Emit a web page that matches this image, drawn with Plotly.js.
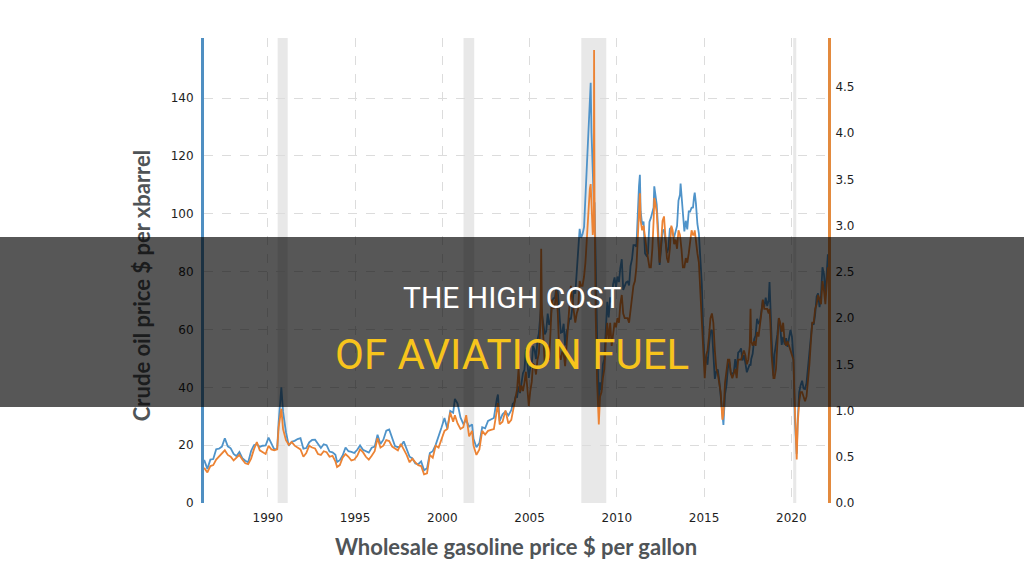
<!DOCTYPE html>
<html>
<head>
<meta charset="utf-8">
<script src="https://cdn.plot.ly/plotly-3.0.1.min.js"></script>
<style>
html,body{margin:0;padding:0;background:#fff;}
#chart{width:1024px;height:576px;}
</style>
</head>
<body>
<div id="chart"></div>
<script>
// ---- data ----
const dates = [
 '1986-05-08','1986-07-15','1986-09-15','1986-11-15',
 '1987-01-15','1987-03-15','1987-05-15','1987-07-15','1987-09-15','1987-11-15',
 '1988-01-15','1988-03-15','1988-05-15','1988-07-15','1988-09-15','1988-11-15',
 '1989-01-15','1989-03-15','1989-05-15','1989-07-15','1989-09-15','1989-11-15',
 '1990-01-15','1990-03-15','1990-05-15','1990-07-15','1990-08-15','1990-10-10','1990-11-15',
 '1991-01-15','1991-03-15','1991-05-15','1991-07-15','1991-09-15','1991-11-15',
 '1992-01-15','1992-03-15','1992-05-15','1992-07-15','1992-09-15','1992-11-15',
 '1993-01-15','1993-03-15','1993-05-15','1993-07-15','1993-09-15','1993-11-15','1993-12-20',
 '1994-02-15','1994-04-15','1994-06-15','1994-08-15','1994-10-15','1994-12-15',
 '1995-02-15','1995-04-15','1995-06-15','1995-08-15','1995-10-15','1995-12-15',
 '1996-02-15','1996-04-15','1996-06-15','1996-08-15','1996-10-15','1996-12-15',
 '1997-02-15','1997-04-15','1997-06-15','1997-08-15','1997-10-15','1997-12-15',
 '1998-02-15','1998-04-15','1998-06-15','1998-08-15','1998-10-15','1998-12-15',
 '1999-02-15','1999-04-15','1999-06-15','1999-08-15','1999-10-15','1999-12-15',
 '2000-02-15','2000-04-15','2000-06-15','2000-08-15','2000-09-20','2000-11-15',
 '2001-01-15','2001-03-15','2001-05-15','2001-07-15','2001-09-15','2001-10-15','2001-12-15',
 '2002-02-15','2002-04-15','2002-06-15','2002-08-15','2002-10-15','2002-12-15',
 '2003-02-15','2003-03-10','2003-04-15','2003-06-15','2003-08-15','2003-10-15','2003-12-15',
 '2004-01-15','2004-02-15','2004-03-15','2004-04-15','2004-05-15','2004-06-15','2004-07-15','2004-08-15','2004-09-15','2004-10-15','2004-11-15','2004-12-15',
 '2005-01-15','2005-02-15','2005-03-15','2005-04-15','2005-05-15','2005-06-15','2005-07-15','2005-08-15','2005-09-01','2005-09-15','2005-10-15','2005-11-15','2005-12-15',
 '2006-01-15','2006-02-15','2006-03-15','2006-04-15','2006-05-15','2006-06-15','2006-07-15','2006-08-15','2006-09-15','2006-10-15','2006-11-15','2006-12-15',
 '2007-01-15','2007-02-15','2007-03-15','2007-04-15','2007-05-15','2007-06-15','2007-07-15','2007-08-15','2007-09-15','2007-10-15','2007-11-15','2007-12-15',
 '2008-01-15','2008-02-15','2008-03-15','2008-04-15','2008-05-15','2008-06-15','2008-07-03','2008-07-20','2008-08-15','2008-09-05','2008-09-12','2008-09-22','2008-10-15','2008-11-15','2008-12-20',
 '2009-01-15','2009-02-15','2009-03-15','2009-04-15','2009-05-15','2009-06-15','2009-07-15','2009-08-15','2009-09-15','2009-10-15','2009-11-15','2009-12-15',
 '2010-01-15','2010-02-15','2010-03-15','2010-04-15','2010-05-15','2010-06-15','2010-07-15','2010-08-15','2010-09-15','2010-10-15','2010-11-15','2010-12-15',
 '2011-01-15','2011-02-15','2011-03-15','2011-04-10','2011-04-29','2011-05-15','2011-06-15','2011-07-15','2011-08-15','2011-09-15','2011-10-15','2011-11-15','2011-12-15',
 '2012-01-15','2012-02-10','2012-02-24','2012-03-15','2012-04-15','2012-05-15','2012-06-15','2012-07-15','2012-08-15','2012-09-15','2012-10-15','2012-11-15','2012-12-15',
 '2013-01-15','2013-02-15','2013-03-15','2013-04-15','2013-05-15','2013-06-15','2013-07-15','2013-08-15','2013-08-28','2013-09-15','2013-10-15','2013-11-15','2013-12-15',
 '2014-01-15','2014-02-15','2014-03-15','2014-04-15','2014-05-15','2014-06-05','2014-06-20','2014-07-15','2014-08-15','2014-09-15','2014-10-15','2014-11-15','2014-12-15',
 '2015-01-15','2015-02-15','2015-03-15','2015-04-15','2015-05-15','2015-06-15','2015-07-15','2015-08-15','2015-09-15','2015-10-15','2015-11-15','2015-12-15',
 '2016-01-20','2016-02-11','2016-03-15','2016-04-15','2016-05-15','2016-06-15','2016-07-15','2016-08-15','2016-09-15','2016-10-15','2016-11-15','2016-12-15',
 '2017-01-15','2017-02-15','2017-03-15','2017-04-15','2017-05-15','2017-06-15','2017-07-15','2017-08-15','2017-08-31','2017-09-15','2017-10-15','2017-11-15','2017-12-15',
 '2018-01-15','2018-02-15','2018-03-15','2018-04-15','2018-05-15','2018-06-15','2018-07-15','2018-08-15','2018-09-15','2018-10-03','2018-10-20','2018-11-15','2018-12-24',
 '2019-01-15','2019-02-15','2019-03-15','2019-04-15','2019-05-15','2019-06-15','2019-07-15','2019-08-15','2019-09-15','2019-10-15','2019-11-15','2019-12-15',
 '2020-01-15','2020-02-15','2020-03-15','2020-04-10','2020-04-24','2020-05-15','2020-06-15','2020-07-15','2020-08-15','2020-09-15','2020-10-15','2020-11-15','2020-12-15',
 '2021-01-15','2021-02-15','2021-03-15','2021-04-15','2021-05-15','2021-06-15','2021-07-15','2021-08-15','2021-09-15','2021-10-15','2021-11-15','2021-12-15',
 '2022-01-15','2022-02-05'
];

// Crude oil price, $ per barrel (left axis)
const crudeOil = [
 14.9,11.8,15.0,15.2,
 18.6,18.8,19.5,22.4,19.6,18.9,
 17.0,16.2,17.6,15.5,14.6,14.1,
 18.0,20.0,20.3,19.4,19.8,19.9,
 22.6,20.3,18.5,18.7,28.0,40.0,31.5,
 24.5,19.8,21.2,21.5,22.1,22.4,
 18.8,19.0,21.0,21.8,21.9,20.2,
 19.0,20.3,20.0,17.8,17.5,16.7,14.2,
 14.8,16.4,19.2,17.9,17.7,17.3,
 18.4,19.9,18.4,17.9,17.4,19.1,
 19.5,23.6,20.4,21.9,25.0,25.4,
 22.2,19.7,19.3,19.6,21.3,18.3,
 16.0,15.4,13.7,13.4,14.4,11.3,
 12.0,17.3,17.9,20.1,22.8,26.1,
 29.4,25.7,31.8,31.2,36.0,34.4,
 29.6,27.4,28.6,26.4,27.2,22.2,19.3,
 20.7,26.2,25.8,28.4,28.8,29.4,
 35.9,37.5,28.3,30.7,31.6,30.3,32.1,
 34.3,34.7,36.8,36.7,40.3,38.0,40.7,44.9,46.0,53.1,48.5,43.3,
 46.8,48.0,54.3,53.0,49.8,56.3,58.7,64.9,69.0,65.6,62.3,58.3,59.4,
 65.5,61.6,62.9,69.4,70.8,70.9,74.4,73.0,63.8,58.9,59.1,62.0,
 54.5,59.3,60.4,63.9,63.5,67.5,74.1,72.4,79.9,85.8,94.8,91.7,
 93.0,95.4,105.5,112.6,125.4,133.9,145.3,128.0,116.7,107.0,101.0,104.0,76.6,57.3,33.9,
 41.7,39.1,47.9,49.7,59.0,69.6,64.2,71.1,69.4,75.7,78.0,74.5,
 78.3,76.4,81.2,84.3,73.7,75.3,76.3,76.6,75.2,81.9,84.3,89.2,
 89.2,88.6,102.9,109.5,113.5,100.9,96.3,97.3,86.3,85.5,86.3,97.2,98.6,
 100.3,102.2,109.5,106.2,103.3,94.7,82.3,87.9,94.1,94.5,89.5,86.5,87.9,
 94.8,95.3,92.9,92.0,94.5,95.8,104.6,106.6,110.5,106.3,100.5,93.9,97.6,
 94.6,100.8,100.8,102.1,102.2,105.8,107.3,103.6,96.5,93.2,84.4,75.8,59.3,
 47.2,50.6,47.8,54.5,59.3,59.8,50.9,42.9,45.5,46.2,42.4,37.2,
 29.0,27.0,37.6,40.8,46.7,48.8,44.7,44.7,45.2,49.8,45.7,52.0,
 52.5,53.5,49.3,51.1,48.5,45.2,46.6,48.0,47.5,49.8,51.6,56.6,57.9,
 63.7,62.2,62.7,66.3,70.0,67.9,71.0,68.1,70.2,76.4,70.8,57.0,44.0,
 51.4,55.0,58.2,63.9,60.8,54.7,57.4,54.8,57.0,54.0,57.0,59.9,
 57.5,50.5,29.2,22.0,17.0,28.6,38.3,40.7,42.3,39.6,39.4,41.4,47.0,
 52.0,59.0,62.3,61.7,65.2,71.4,72.5,67.7,71.6,81.5,79.2,71.7,
 83.2,86.0
];

// Wholesale gasoline price, $ per gallon (right axis)
const gasoline = [
 0.38,0.33,0.40,0.41,
 0.47,0.50,0.54,0.57,0.52,0.50,
 0.46,0.49,0.52,0.47,0.43,0.42,
 0.48,0.58,0.66,0.57,0.55,0.53,
 0.62,0.58,0.57,0.58,0.82,1.02,0.80,
 0.68,0.63,0.66,0.62,0.60,0.58,
 0.50,0.54,0.62,0.60,0.59,0.53,
 0.52,0.56,0.55,0.50,0.51,0.45,0.39,
 0.41,0.49,0.53,0.50,0.46,0.47,
 0.51,0.58,0.55,0.50,0.47,0.51,
 0.56,0.70,0.60,0.62,0.68,0.67,
 0.61,0.59,0.57,0.64,0.58,0.52,
 0.44,0.48,0.44,0.41,0.40,0.31,
 0.32,0.52,0.49,0.62,0.60,0.68,
 0.78,0.80,0.98,0.88,0.95,0.86,
 0.80,0.82,0.95,0.72,0.78,0.62,0.52,
 0.58,0.78,0.74,0.78,0.79,0.80,
 1.00,1.08,0.85,0.88,1.00,0.86,0.90,
 0.98,1.07,1.12,1.23,1.45,1.20,1.27,1.21,1.30,1.42,1.24,1.05,
 1.21,1.31,1.51,1.48,1.39,1.55,1.62,1.93,2.75,2.10,1.80,1.50,1.60,
 1.70,1.55,1.83,2.20,2.10,2.15,2.30,2.05,1.60,1.55,1.63,1.62,
 1.48,1.70,1.95,2.20,2.35,2.20,2.10,1.95,2.05,2.10,2.40,2.35,
 2.35,2.45,2.60,2.85,3.20,3.40,3.45,3.25,2.90,3.00,4.90,3.30,2.05,1.30,0.85,
 1.15,1.20,1.35,1.45,1.75,1.95,1.75,1.95,1.70,1.85,1.95,1.90,
 2.00,1.95,2.15,2.25,2.05,2.00,2.00,2.00,1.95,2.10,2.20,2.35,
 2.40,2.55,2.85,3.20,3.35,3.05,2.95,3.00,2.90,2.75,2.65,2.55,2.55,
 2.75,3.05,3.30,3.25,3.15,2.85,2.60,2.80,3.05,3.10,2.85,2.65,2.60,
 2.75,3.00,2.95,2.80,2.85,2.75,2.95,2.90,2.85,2.75,2.55,2.55,2.65,
 2.60,2.70,2.80,2.95,2.90,2.90,2.95,2.80,2.70,2.60,2.30,2.10,1.65,
 1.35,1.60,1.65,1.80,2.00,2.05,1.95,1.65,1.45,1.40,1.30,1.20,
 0.90,0.95,1.30,1.45,1.55,1.55,1.40,1.35,1.40,1.45,1.35,1.55,
 1.55,1.55,1.60,1.65,1.60,1.50,1.55,1.70,2.10,1.75,1.70,1.75,1.70,
 1.85,1.80,1.90,2.05,2.20,2.10,2.10,2.10,2.05,2.10,1.95,1.60,1.35,
 1.35,1.45,1.80,2.00,1.95,1.85,1.95,1.75,1.70,1.75,1.70,1.65,
 1.60,1.55,1.05,0.70,0.47,0.85,1.10,1.20,1.20,1.15,1.10,1.15,1.30,
 1.50,1.75,1.95,1.95,2.10,2.15,2.25,2.20,2.15,2.40,2.30,2.15,
 2.45,2.55
];

// Recession periods (grey bands)
const recessionStart = ['1990-07-25','2001-03-20','2007-12-20','2020-02-10'];
const recessionEnd   = ['1991-02-20','2001-10-30','2009-05-25','2020-04-15'];

const leftTicks  = [0,20,40,60,80,100,120,140];
const rightTicks = [0,0.5,1,1.5,2,2.5,3,3.5,4,4.5];

const bannerLine1 = 'THE HIGH COST';
const bannerLine2 = 'OF AVIATION FUEL';

// ---- chart ----
const blue = '#4f93c9';
const orange = '#ec8334';

const traces = [
  {x: dates, y: crudeOil, type: 'scatter', mode: 'lines', yaxis: 'y',
   line: {color: blue, width: 1.8}, name: 'Crude oil', hoverinfo: 'skip'},
  {x: dates, y: gasoline, type: 'scatter', mode: 'lines', yaxis: 'y2',
   line: {color: orange, width: 1.8}, name: 'Gasoline', hoverinfo: 'skip'}
];

const shapes = recessionStart.map((s, i) => ({
  type: 'rect', xref: 'x', yref: 'paper', x0: s, x1: recessionEnd[i], y0: 0, y1: 1,
  fillcolor: '#e8e8e8', line: {width: 0}, layer: 'below'
}));
// dark banner overlay
shapes.push({
  type: 'rect', xref: 'paper', yref: 'paper', x0: -0.5, x1: 1.5, y0: 0.2065, y1: 0.572,
  fillcolor: 'rgba(0,0,0,0.66)', line: {width: 0}, layer: 'above'
});

const tickFont = {family: 'DejaVu Sans, Verdana, sans-serif', size: 12, color: '#1e1e1e'};
const titleFont = {family: 'Lato, Open Sans, sans-serif', size: 22, color: '#4f5457', weight: 700};

const layout = {
  width: 1024, height: 576,
  margin: {l: 204, r: 196, t: 38, b: 73, pad: 0},
  paper_bgcolor: '#ffffff', plot_bgcolor: '#ffffff',
  showlegend: false,
  xaxis: {
    type: 'date', range: ['1986-05-05', '2022-02-08'],
    tick0: '1990-01-01', dtick: 'M60', tickformat: '%Y',
    showgrid: true, gridcolor: '#dcdcdc', griddash: 'dash', gridwidth: 1,
    zeroline: false, showline: false, ticks: '', tickfont: tickFont,
    ticklabelstandoff: 6,
    title: {text: 'Wholesale gasoline price $ per gallon', standoff: 15, font: titleFont}
  },
  yaxis: {
    range: [0, 160.8], tickvals: leftTicks, ticktext: leftTicks.map(String),
    showgrid: true, gridcolor: '#dcdcdc', griddash: 'dash', gridwidth: 1,
    zeroline: false, showline: true, linecolor: '#4f8fc2', linewidth: 3,
    ticks: '', tickfont: tickFont, ticklabelstandoff: 5,
    title: {text: 'Crude oil price $ per xbarrel', standoff: 14, font: titleFont}
  },
  yaxis2: {
    overlaying: 'y', side: 'right', range: [0, 5.03],
    tickvals: rightTicks, ticktext: rightTicks.map(v => v.toFixed(1)),
    showgrid: false, zeroline: false, showline: true, linecolor: '#e38a3e', linewidth: 3,
    ticks: '', tickfont: tickFont, ticklabelstandoff: 2
  },
  shapes: shapes,
  annotations: [
    {text: bannerLine1, xref: 'paper', yref: 'paper', x: 0.4936, y: 0.443,
     xanchor: 'center', yanchor: 'middle', showarrow: false,
     font: {family: 'Roboto, sans-serif', size: 30, color: '#ffffff'}},
    {text: bannerLine2, xref: 'paper', yref: 'paper', x: 0.4936, y: 0.32,
     xanchor: 'center', yanchor: 'middle', showarrow: false,
     font: {family: 'Roboto, sans-serif', size: 42, color: '#f7c41c'}}
  ]
};

const gd = document.getElementById('chart');
Plotly.newPlot(gd, traces, layout, {staticPlot: true, displayModeBar: false}).then(() => {
  try {
    // put the y-axis title under the dark banner and a little lower, as in the reference
    const yt = gd.querySelector('.g-ytitle');
    const above = gd.querySelector('.layer-above');
    if (yt && above) {
      above.parentNode.insertBefore(yt, above);
      yt.setAttribute('transform', 'translate(0,15)');
    }
  } catch (e) {}
});
</script>
</body>
</html>
